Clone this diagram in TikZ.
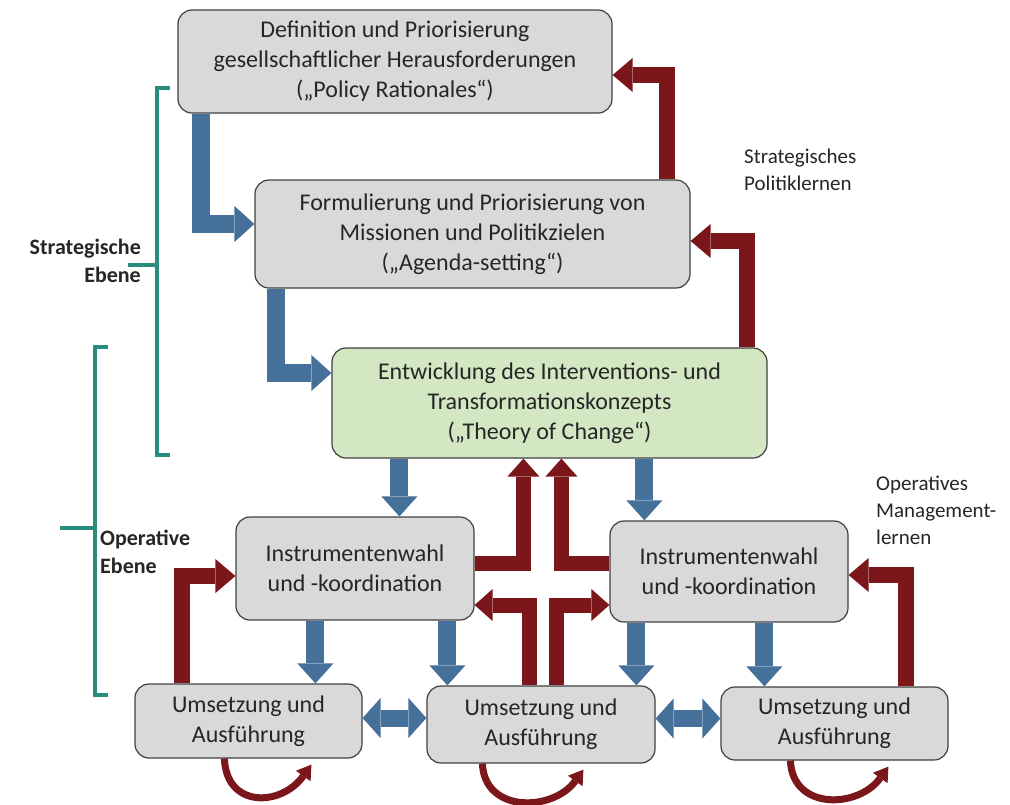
\documentclass[tikz,border=0pt]{standalone}
\usepackage{fontspec}
\setmainfont{Carlito}
\usetikzlibrary{arrows.meta}
\definecolor{boxgray}{HTML}{D9D9D9}
\definecolor{boxline}{HTML}{404040}
\definecolor{boxgreen}{HTML}{D3E7C3}
\definecolor{arblue}{HTML}{44709A}
\definecolor{arred}{HTML}{7B171B}
\definecolor{brteal}{HTML}{2A8C7E}
\definecolor{txtgray}{HTML}{262626}
\tikzset{
  box/.style={draw=boxline, line width=1.2pt, fill=boxgray, rounded corners=14pt,
    align=center, inner sep=0pt, text=txtgray, font=\fontsize{24}{30}\selectfont},
  greenbox/.style={box, fill=boxgreen},
  bluearr/.style={draw=arblue, line width=18pt,
    -{Triangle[width=36pt,length=20pt,line width=0pt]}},
  bluedbl/.style={draw=arblue, line width=17pt,
    {Triangle[width=40pt,length=18pt,line width=0pt]}-{Triangle[width=40pt,length=18pt,line width=0pt]}},
  redarr/.style={draw=arred, line width=16pt,
    -{Triangle[width=34pt,length=20pt,line width=0pt]}},
  crossarr/.style={draw=arred, line width=15pt,
    -{Triangle[width=32pt,length=18pt,line width=0pt]}},
  looparr/.style={draw=arred, line width=7pt,
    -{Triangle[width=18pt,length=14pt,line width=0pt]}},
  bracket/.style={draw=brteal, line width=3.5pt},
  levellabel/.style={font=\bfseries\fontsize{22}{28}\selectfont, text=txtgray, inner sep=0pt},
  sidelabel/.style={font=\fontsize{21}{27}\selectfont, text=txtgray, inner sep=0pt, align=left, anchor=west}
}
\begin{document}
\begin{tikzpicture}[x=1pt,y=-1pt]
\useasboundingbox[fill=white] (0,0) rectangle (1010,804);

% boxes
\node[box, minimum width=434pt, minimum height=103pt] (b1) at (395,61.5)
  {Definition und Priorisierung\\gesellschaftlicher Herausforderungen\\(„Policy Rationales“)};
\node[box, minimum width=435pt, minimum height=108pt] (b2) at (472.5,234)
  {Formulierung und Priorisierung von\\Missionen und Politikzielen\\(„Agenda-setting“)};
\node[greenbox, minimum width=435pt, minimum height=110pt] (b3) at (549.5,403)
  {Entwicklung des Interventions- und\\Transformationskonzepts\\(„Theory of Change“)};
\node[box, minimum width=238pt, minimum height=103pt] (b4) at (355,568.5)
  {Instrumentenwahl\\und -koordination};
\node[box, minimum width=238pt, minimum height=101pt] (b5) at (729,571.5)
  {Instrumentenwahl\\und -koordination};
\node[box, minimum width=227pt, minimum height=74pt] (b6) at (248.5,721)
  {Umsetzung und\\Ausführung};
\node[box, minimum width=228pt, minimum height=77pt] (b7) at (541,724.5)
  {Umsetzung und\\Ausführung};
\node[box, minimum width=227pt, minimum height=73pt] (b8) at (834.5,723.5)
  {Umsetzung und\\Ausführung};

% blue arrows
\draw[bluearr] ([xshift=24pt]b1.south west) |- ([yshift=10pt]b2.west);
\draw[bluearr] ([xshift=22pt]b2.south west) |- ([yshift=30pt]b3.west);
\draw[bluearr] ([xshift=68pt]b3.south west) -- ([xshift=68pt]b3.south west |- b4.north);
\draw[bluearr] ([xshift=313pt]b3.south west) -- ([xshift=313pt]b3.south west |- b5.north);
\draw[bluearr] ([xshift=80pt]b4.south west) -- ([xshift=80pt]b4.south west |- b6.north);
\draw[bluearr] ([xshift=212pt]b4.south west) -- ([xshift=212pt]b4.south west |- b7.north);
\draw[bluearr] ([xshift=27pt]b5.south west) -- ([xshift=27pt]b5.south west |- b7.north);
\draw[bluearr] ([xshift=155pt]b5.south west) -- ([xshift=155pt]b5.south west |- b8.north);
\draw[bluedbl] ([yshift=3pt]b6.east) -- ([yshift=3pt]b6.east -| b7.west);
\draw[bluedbl] ([yshift=6pt]b7.east) -- ([yshift=6pt]b7.east -| b8.west);

% red feedback arrows
\draw[redarr] ([xshift=-24pt]b2.north east) |- ([yshift=-13.5pt]b1.east);
\draw[redarr] ([xshift=-21pt]b3.north east) |- ([yshift=-7pt]b2.east);
\draw[redarr] ([xshift=48pt]b6.north west) |- ([yshift=-7.5pt]b4.west);
\draw[redarr] ([xshift=-43pt]b8.north east) |- ([yshift=-3.5pt]b5.east);

% central cross
\draw[crossarr] ([yshift=5.5pt]b4.east) -| ([xshift=192pt]b3.south west);
\draw[crossarr] ([yshift=8.5pt]b5.west) -| ([xshift=230pt]b3.south west);
\draw[crossarr] ([xshift=103pt]b7.north west) |- ([yshift=-36.5pt]b4.east);
\draw[crossarr] ([xshift=130pt]b7.north west) |- ([yshift=-33.5pt]b5.west);

% loops
\draw[looparr] ([xshift=90pt]b6.south west) .. controls +(2,50) and +(-30,42) .. ([xshift=177pt,yshift=-6pt]b6.south west);
\draw[looparr] ([xshift=56pt]b7.south west) .. controls +(2,50) and +(-30,42) .. ([xshift=157pt,yshift=-6pt]b7.south west);
\draw[looparr] ([xshift=70pt]b8.south west) .. controls +(2,50) and +(-30,42) .. ([xshift=168pt,yshift=-6pt]b8.south west);

% brackets
\draw[bracket] (170,88) -- (157,88) -- (157,455) -- (170,455);
\draw[bracket] (128,265) -- (157,265);
\draw[bracket] (108,347) -- (95,347) -- (95,695) -- (108,695);
\draw[bracket] (60,528) -- (95,528);

% labels
\node[levellabel, align=right, anchor=east] (lstrat) at (141,261) {Strategische\\Ebene};
\node[levellabel, align=left, anchor=west] (lop) at (100,552) {Operative\\Ebene};
\node[sidelabel] (lsp) at (744,170) {Strategisches\\Politiklernen};
\node[sidelabel] (lom) at (876,510) {Operatives\\Management-\\lernen};
\end{tikzpicture}
\end{document}
